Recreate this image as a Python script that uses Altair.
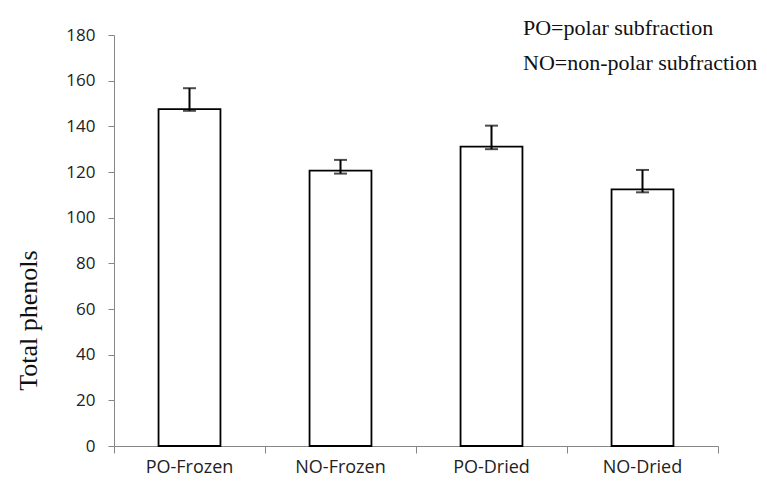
import altair as alt
import pandas as pd

# Sample groups and their total phenol content
categories = ["PO-Frozen", "NO-Frozen", "PO-Dried", "NO-Dried"]
means = [147.5, 120.6, 131.1, 112.4]
err_low = [146.8, 119.3, 130.0, 111.1]
err_high = [156.7, 125.3, 140.3, 120.9]

# Boundaries between the category slots (for the x tick marks)
slot_edges = [0, 1, 2, 3, 4]

# Key text shown top right
notes = ["PO=polar subfraction", "NO=non-polar subfraction"]

y_ticks = list(range(0, 181, 20))

df = pd.DataFrame({"cat": categories, "mean": means, "lo": err_low, "hi": err_high})
edges_df = pd.DataFrame({"edge": slot_edges})

W, H = 604, 411
AXIS_GRAY = "#868686"
LABEL_FONT = "Open Sans"

x_band = alt.X(
    "cat:N",
    sort=categories,
    scale=alt.Scale(paddingInner=0, paddingOuter=0),
    axis=alt.Axis(
        orient="bottom", title=None, ticks=False, tickSize=0, domain=False,
        labelAngle=0, labelFont=LABEL_FONT, labelFontSize=18, labelColor="#222222",
        labelPadding=12,
    ),
)
y_scale = alt.Scale(domain=[0, 180], nice=False)
y_axis = alt.Axis(
    values=y_ticks, grid=False, domainColor=AXIS_GRAY, tickColor=AXIS_GRAY,
    tickSize=6, labelFont=LABEL_FONT, labelFontSize=17, labelColor="#222222",
    labelPadding=13, title="Total phenols", titleFont="Liberation Serif",
    titleFontSize=26, titleFontWeight="normal", titleColor="#111111",
    titleAngle=-90, titleX=-86, titleY=285, titleAlign="center",
    titleBaseline="middle",
)

base = alt.Chart(df)
x_cat = alt.X("cat:N", sort=categories)

bars = base.mark_bar(
    width=alt.RelativeBandSize(0.41), fill="white", stroke="black", strokeWidth=1.8
).encode(x=x_band, y=alt.Y("mean:Q", scale=y_scale, axis=y_axis))

err_rule = base.mark_rule(color="black", strokeWidth=2).encode(
    x=x_cat, y=alt.Y("lo:Q"), y2="hi:Q"
)
cap_hi = base.mark_tick(color="black", thickness=2, size=13, orient="horizontal").encode(
    x=x_cat, y="hi:Q"
)
cap_lo = base.mark_tick(color="black", thickness=2, size=13, orient="horizontal").encode(
    x=x_cat, y="lo:Q"
)

bar_layer = alt.layer(bars, err_rule, cap_lo, cap_hi)

# Invisible layer carrying the x axis line and ticks at slot boundaries
edge_axis = alt.Chart(edges_df).mark_rule(opacity=0).encode(
    x=alt.X(
        "edge:Q",
        scale=alt.Scale(domain=[slot_edges[0], slot_edges[-1]], nice=False, zero=False),
        axis=alt.Axis(
            orient="bottom", values=slot_edges, labels=False, title=None, grid=False,
            domainColor=AXIS_GRAY, tickColor=AXIS_GRAY, tickSize=7,
        ),
    )
)

note_style = dict(align="left", baseline="middle", font="Liberation Serif",
                  fontSize=22, color="#111111")
note_layers = [
    alt.Chart(pd.DataFrame({"note": [txt]})).mark_text(**note_style).encode(
        x=alt.value(409), y=alt.value(-7 + 35 * i), text="note:N"
    )
    for i, txt in enumerate(notes)
]

chart = (
    alt.layer(bar_layer, edge_axis, *note_layers)
    .resolve_scale(x="independent")
    .properties(
        width=W,
        height=H,
        autosize=alt.AutoSizeParams(type="none"),
        padding={"left": 114, "top": 35, "right": 49, "bottom": 38},
        background="white",
    )
    .configure_view(stroke=None)
)

chart.save("out.html", embed_options={"renderer": "svg", "actions": False})
